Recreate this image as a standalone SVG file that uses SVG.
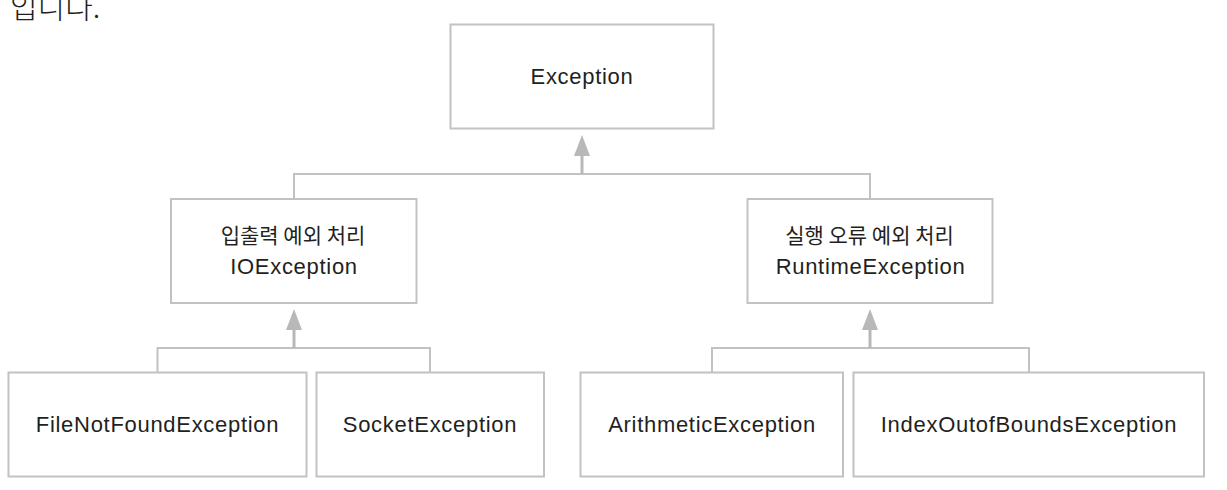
<svg xmlns="http://www.w3.org/2000/svg" width="1227" height="490" viewBox="0 0 1227 490">
  <style>
    .box { fill: #ffffff; stroke: #c2c2c2; stroke-width: 2; }
    .lbl { font-family: "Liberation Sans", Arial, sans-serif; font-size: 22px; letter-spacing: 0.7px; fill: #231f20; text-anchor: middle; }
    .ko { font-family: "Noto Sans CJK KR", "Liberation Sans", sans-serif; font-size: 21px; fill: #231f20; text-anchor: middle; }
    .wire { fill: none; stroke: #c2c2c2; stroke-width: 2; }
    .stem { fill: none; stroke: #b8b8b8; stroke-width: 3; }
    .head { fill: #b8b8b8; }
  </style>
  <rect width="1227" height="490" fill="#ffffff"/>
  <text x="10" y="17.5" font-family="'Noto Sans CJK KR', sans-serif" font-weight="300" font-size="30" fill="#231f20">입니다.</text>

  <g id="connectors">
    <path class="wire" d="M294 199 V174 H870 V199"/>
    <path class="stem" d="M582 174 V152"/>
    <polygon class="head" points="582,135 574,156 590,156"/>
    <path class="wire" d="M157.5 372.5 V348 H430 V372.5"/>
    <path class="stem" d="M294 348 V326"/>
    <polygon class="head" points="294,309 286,330 302,330"/>
    <path class="wire" d="M712 372.5 V348 H1029 V372.5"/>
    <path class="stem" d="M870 348 V326"/>
    <polygon class="head" points="870,309 862,330 878,330"/>
  </g>

  <g id="exception">
    <rect class="box" x="450.5" y="24.5" width="263" height="104"/>
    <text class="lbl" x="582" y="84">Exception</text>
  </g>
  <g id="ioexception">
    <rect class="box" x="171" y="199" width="245.5" height="104"/>
    <text class="ko" x="293" y="242.5">입출력 예외 처리</text>
    <text class="lbl" x="294" y="273.5">IOException</text>
  </g>
  <g id="runtimeexception">
    <rect class="box" x="747.5" y="199" width="245" height="104"/>
    <text class="ko" x="869.5" y="242.5">실행 오류 예외 처리</text>
    <text class="lbl" x="870.5" y="273.5">RuntimeException</text>
  </g>
  <g id="filenotfound">
    <rect class="box" x="8.5" y="372.5" width="298" height="104"/>
    <text class="lbl" x="157.5" y="432">FileNotFoundException</text>
  </g>
  <g id="socket">
    <rect class="box" x="316.5" y="372.5" width="227.5" height="104"/>
    <text class="lbl" x="430" y="432">SocketException</text>
  </g>
  <g id="arithmetic">
    <rect class="box" x="580.5" y="372.5" width="262.5" height="104"/>
    <text class="lbl" x="712" y="432">ArithmeticException</text>
  </g>
  <g id="indexoutofbounds">
    <rect class="box" x="853.5" y="372.5" width="350.5" height="104"/>
    <text class="lbl" x="1029" y="432">IndexOutofBoundsException</text>
  </g>
</svg>
